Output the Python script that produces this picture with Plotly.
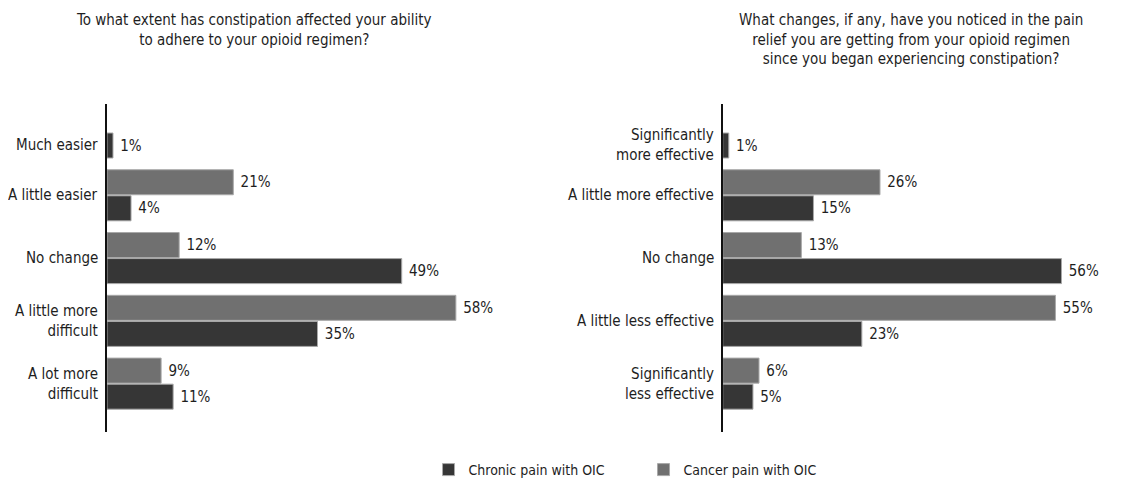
import plotly.graph_objects as go

# left panel: adherence
left_cats = ["Much easier", "A little easier", "No change",
             "A little more<br>difficult", "A lot more<br>difficult"]
left_chronic = [1, 4, 49, 35, 11]
left_cancer = [None, 21, 12, 58, 9]

# right panel: pain relief
right_cats = ["Significantly<br>more effective", "A little more effective", "No change",
              "A little less effective", "Significantly<br>less effective"]
right_chronic = [1, 15, 56, 23, 5]
right_cancer = [None, 26, 13, 55, 6]

left_title = "To what extent has constipation affected your ability<br>to adhere to your opioid regimen?"
right_title = ("What changes, if any, have you noticed in the pain<br>relief you are getting from your opioid regimen"
               "<br>since you began experiencing constipation?")

FONT = "Liberation Sans Narrow, DejaVu Sans Condensed, Arial Narrow, sans-serif"
DARK = "#363636"
GREY = "#707070"
EDGE = "#a8a8a8"
TXT = "#1e1e1e"

# page body has an 8px margin, so the figure is a little smaller than the window
W, H = 1135, 474


def bar(x, y, name, color, xa, ya, show):
    return go.Bar(
        x=x, y=y, name=name, orientation="h",
        xaxis=xa, yaxis=ya, showlegend=show,
        legendrank=1 if name.startswith("Chronic") else 2,
        marker=dict(color=color, line=dict(color=EDGE, width=1)),
        text=[f"\u00a0{v}%" if v is not None else "" for v in x],
        textposition="outside", cliponaxis=False,
        textfont=dict(family=FONT, size=15, color=TXT),
    )


fig = go.Figure()
fig.add_trace(bar(left_cancer, left_cats, "Cancer pain with OIC", GREY, "x", "y", True))
fig.add_trace(bar(left_chronic, left_cats, "Chronic pain with OIC", DARK, "x", "y", True))
fig.add_trace(bar(right_cancer, right_cats, "Cancer pain with OIC", GREY, "x2", "y2", False))
fig.add_trace(bar(right_chronic, right_cats, "Chronic pain with OIC", DARK, "x2", "y2", False))

ydom = [0.1055, 0.7975]
yax = dict(domain=ydom, range=[4.77, -0.454], showticklabels=False, ticks="",
           showline=True, linecolor="#111", linewidth=1.5, showgrid=False, zeroline=False)

fig.update_layout(
    width=W, height=H,
    margin=dict(l=0, r=0, t=0, b=0, autoexpand=False),
    plot_bgcolor="white", paper_bgcolor="white",
    barmode="group", bargap=0.17, bargroupgap=0.04,
    font=dict(family=FONT, size=15, color=TXT),
    xaxis=dict(domain=[0.0872, 0.4317], range=[0, 65], visible=False),
    xaxis2=dict(domain=[0.6297, 0.9495], range=[0, 60], visible=False),
    yaxis=dict(yax, categoryorder="array", categoryarray=left_cats),
    yaxis2=dict(yax, categoryorder="array", categoryarray=right_cats, anchor="x2"),
    legend=dict(orientation="h", x=0.3705, y=-4 / H, xanchor="left", yanchor="bottom",
                entrywidth=170, font=dict(family=FONT, size=14, color=TXT),
                itemwidth=30, tracegroupgap=0),
)

# category labels (first one sits beside its single bar)
for cats, xa, ya in [(left_cats, "x", "y"), (right_cats, "x2", "y2")]:
    for i, c in enumerate(cats):
        fig.add_annotation(
            text=c, xref=f"{xa} domain", yref=ya, x=0, y=c,
            xanchor="right", yanchor="middle", align="right", showarrow=False,
            xshift=-7, yshift=-13 if i == 0 else 0,
            font=dict(family=FONT, size=15, color=TXT),
        )

fig.add_annotation(text=left_title, xref="paper", yref="paper", x=246 / W, y=1 - 1 / H,
                   xanchor="center", yanchor="top", showarrow=False,
                   font=dict(family=FONT, size=15, color=TXT))
fig.add_annotation(text=right_title, xref="paper", yref="paper", x=903 / W, y=1 - 1 / H,
                   xanchor="center", yanchor="top", showarrow=False,
                   font=dict(family=FONT, size=15, color=TXT))

fig.write_html("out.html")
